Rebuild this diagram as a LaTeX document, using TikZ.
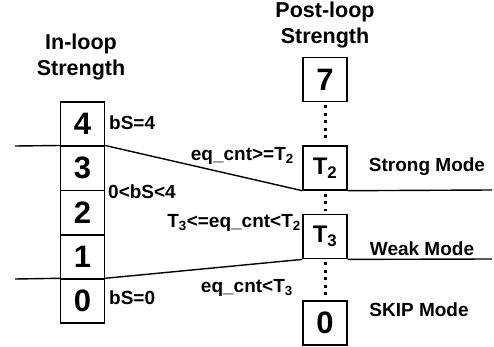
\documentclass[tikz,border=0pt]{standalone}
\usepackage{fontspec}
\setmainfont{Liberation Sans}
\begin{document}
\begin{tikzpicture}[x=1pt,y=-1pt,
  lvl/.style={draw,line width=1.4pt,minimum width=44pt,minimum height=44pt,
    inner sep=0pt,font=\bfseries\fontsize{31}{31}\selectfont},
  thr/.style={lvl,font=\bfseries\fontsize{24}{24}\selectfont},
  lbl/.style={inner sep=0pt,font=\bfseries\fontsize{19}{19}\selectfont},
  ttl/.style={inner sep=0pt,align=center,font=\bfseries\fontsize{21.5}{26}\selectfont},
  edge/.style={line width=1.4pt},
  gap/.style={line width=3pt,dash pattern=on 3pt off 4.5pt}]
\useasboundingbox (0,0) rectangle (494,347);

% column titles
\node[ttl] (tin) at (81,57) {In-loop\\Strength};
\node[ttl] (tpost) at (325,25) {Post-loop\\Strength};

% in-loop strength levels
\node[lvl] (l4) at (82.5,124) {4};
\node[lvl] (l3) at (82.5,168.2) {3};
\node[lvl] (l2) at (82.5,212.5) {2};
\node[lvl] (l1) at (82.5,256.8) {1};
\node[lvl] (l0) at (82.5,301) {0};

% post-loop strength levels
\node[lvl] (p7) at (325,79.5) {7};
\node[thr] (pT2) at (325,168) {T$_{\mathbf 2}$};
\node[thr] (pT3) at (325,236.7) {T$_{\mathbf 3}$};
\node[lvl] (p0) at (325,323) {0};

% elided levels
\draw[gap] ([yshift=-3pt]p7.south) -- ([yshift=3pt]pT2.north);
\draw[gap] ([yshift=-3pt]pT2.south) -- ([yshift=3pt]pT3.north);
\draw[gap] ([yshift=-3pt]pT3.south) -- ([yshift=3pt]p0.north);

% mapping boundaries
\coordinate (ua) at (15,146);
\coordinate (ub) at (492,190);
\coordinate (la) at (15,279);
\coordinate (lb) at (492,259);
\draw[edge] (ua) -- (l3.north west);
\draw[edge] (l3.north east) -- (pT2.south west);
\draw[edge] (pT2.south east) -- (ub);
\draw[edge] (la) -- (l0.north west);
\draw[edge] (l0.north east) -- (pT3.south west);
\draw[edge] (pT3.south east) -- (lb);

% in-loop labels
\node[lbl,anchor=west] (b4) at (109,123) {bS=4};
\node[lbl,anchor=west] (bm) at (108,192) {0<bS<4};
\node[lbl,anchor=west] (b0) at (109,298) {bS=0};

% threshold labels
\node[lbl,anchor=east] (c2) at (294,156) {eq\_cnt>=T$_{\mathbf 2}$};
\node[lbl,anchor=east] (c23) at (301,223) {T$_{\mathbf 3}$<=eq\_cnt<T$_{\mathbf 2}$};
\node[lbl,anchor=east] (c3) at (293,288) {eq\_cnt<T$_{\mathbf 3}$};

% filter modes
\node[lbl] (ms) at (427,167) {Strong Mode};
\node[lbl] (mw) at (422,249) {Weak Mode};
\node[lbl] (mk) at (419,310) {SKIP Mode};
\end{tikzpicture}
\end{document}
